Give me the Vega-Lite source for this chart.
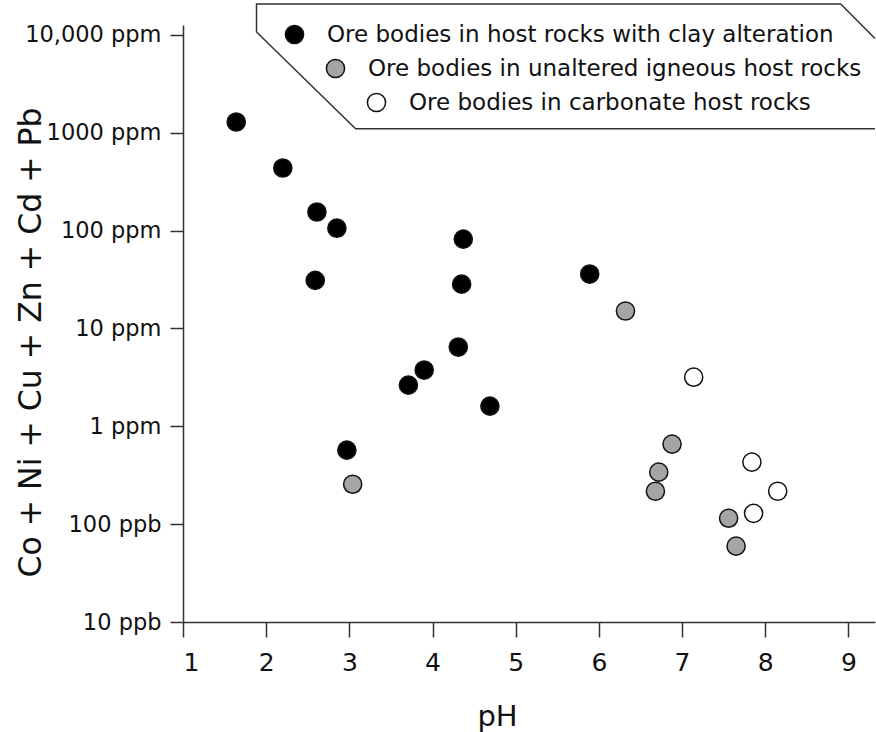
{
  "$schema": "https://vega.github.io/schema/vega-lite/v6.json",
  "width": 692,
  "height": 597,
  "autosize": {"type": "none"},
  "padding": {"left": 183, "top": 25, "right": 1, "bottom": 110},
  "background": "white",
  "config": {
    "view": {"stroke": null},
    "font": "DejaVu Sans"
  },
  "datasets": {
    "points": [
      {"pH": 1.64, "conc": 1290, "type": "Ore bodies in host rocks with clay alteration"},
      {"pH": 2.20, "conc": 437, "type": "Ore bodies in host rocks with clay alteration"},
      {"pH": 2.61, "conc": 155, "type": "Ore bodies in host rocks with clay alteration"},
      {"pH": 2.85, "conc": 106, "type": "Ore bodies in host rocks with clay alteration"},
      {"pH": 2.59, "conc": 31, "type": "Ore bodies in host rocks with clay alteration"},
      {"pH": 4.37, "conc": 82, "type": "Ore bodies in host rocks with clay alteration"},
      {"pH": 4.35, "conc": 28.4, "type": "Ore bodies in host rocks with clay alteration"},
      {"pH": 5.89, "conc": 36, "type": "Ore bodies in host rocks with clay alteration"},
      {"pH": 4.31, "conc": 6.46, "type": "Ore bodies in host rocks with clay alteration"},
      {"pH": 3.90, "conc": 3.76, "type": "Ore bodies in host rocks with clay alteration"},
      {"pH": 3.71, "conc": 2.64, "type": "Ore bodies in host rocks with clay alteration"},
      {"pH": 4.69, "conc": 1.61, "type": "Ore bodies in host rocks with clay alteration"},
      {"pH": 2.97, "conc": 0.571, "type": "Ore bodies in host rocks with clay alteration"},
      {"pH": 6.32, "conc": 15.1, "type": "Ore bodies in unaltered igneous host rocks"},
      {"pH": 6.88, "conc": 0.658, "type": "Ore bodies in unaltered igneous host rocks"},
      {"pH": 6.72, "conc": 0.340, "type": "Ore bodies in unaltered igneous host rocks"},
      {"pH": 6.68, "conc": 0.217, "type": "Ore bodies in unaltered igneous host rocks"},
      {"pH": 7.56, "conc": 0.115, "type": "Ore bodies in unaltered igneous host rocks"},
      {"pH": 7.65, "conc": 0.0596, "type": "Ore bodies in unaltered igneous host rocks"},
      {"pH": 3.04, "conc": 0.256, "type": "Ore bodies in unaltered igneous host rocks"},
      {"pH": 7.14, "conc": 3.18, "type": "Ore bodies in carbonate host rocks"},
      {"pH": 7.84, "conc": 0.431, "type": "Ore bodies in carbonate host rocks"},
      {"pH": 8.15, "conc": 0.217, "type": "Ore bodies in carbonate host rocks"},
      {"pH": 7.86, "conc": 0.129, "type": "Ore bodies in carbonate host rocks"}
    ],
    "box": [
      {"i": 1, "pH": 9.32, "conc": 1100},
      {"i": 2, "pH": 3.075, "conc": 1100},
      {"i": 3, "pH": 1.884, "conc": 10730},
      {"i": 4, "pH": 1.884, "conc": 20750},
      {"i": 5, "pH": 8.908, "conc": 20750},
      {"i": 6, "pH": 9.32, "conc": 9210}
    ]
  },
  "encoding": {
    "x": {
      "field": "pH",
      "type": "quantitative",
      "scale": {"domain": [1, 9.32], "nice": false, "zero": false},
      "axis": {
        "values": [1, 2, 3, 4, 5, 6, 7, 8, 9],
        "format": "d",
        "grid": false,
        "tickSize": 15,
        "tickWidth": 1.5,
        "tickColor": "#333",
        "domainColor": "#333",
        "domainWidth": 1.5,
        "labelPadding": 13,
        "labelFontSize": 25,
        "labelColor": "#111",
        "labelFont": "DejaVu Sans",
        "title": "pH",
        "titleFont": "DejaVu Sans",
        "titleFontSize": 29,
        "titleFontWeight": "normal",
        "titleColor": "#111",
        "titleX": 314,
        "titleY": 80,
        "titleAlign": "center",
        "titleBaseline": "top"
      }
    },
    "y": {
      "field": "conc",
      "type": "quantitative",
      "scale": {"type": "log", "domain": [0.01, 12650], "nice": false},
      "axis": {
        "values": [0.01, 0.1, 1, 10, 100, 1000, 10000],
        "labelExpr": "datum.value >= 10000 ? '10,000 ppm' : datum.value >= 1 ? format(datum.value, 'd') + ' ppm' : format(datum.value * 1000, '.0f') + ' ppb'",
        "grid": false,
        "tickSize": 13,
        "tickWidth": 1.5,
        "tickColor": "#333",
        "domainColor": "#333",
        "domainWidth": 1.5,
        "labelPadding": 9,
        "labelFontSize": 22.5,
        "labelColor": "#111",
        "labelFont": "DejaVu Sans",
        "title": "Co + Ni + Cu + Zn + Cd + Pb",
        "titleFont": "DejaVu Sans",
        "titleFontSize": 31.5,
        "titleFontWeight": "normal",
        "titleColor": "#111",
        "titleAngle": -90,
        "titleX": -152,
        "titleY": 317,
        "titleAlign": "center",
        "titleBaseline": "middle"
      }
    }
  },
  "layer": [
    {
      "data": {"name": "box"},
      "mark": {"type": "line", "stroke": "#333", "strokeWidth": 1.5, "clip": false},
      "encoding": {
        "order": {"field": "i", "type": "quantitative"}
      }
    },
    {
      "data": {"name": "points"},
      "mark": {"type": "point", "shape": "circle", "filled": true, "size": 330, "stroke": "#111", "strokeWidth": 1.5, "opacity": 1},
      "encoding": {
        "fill": {
          "field": "type",
          "type": "nominal",
          "scale": {
            "domain": [
              "Ore bodies in host rocks with clay alteration",
              "Ore bodies in unaltered igneous host rocks",
              "Ore bodies in carbonate host rocks"
            ],
            "range": ["#000000", "#a5a5a5", "#ffffff"]
          },
          "legend": {
            "orient": "none",
            "legendX": 100,
            "legendY": -2,
            "title": null,
            "padding": 0,
            "labelFontSize": 23,
            "labelFont": "DejaVu Sans",
            "labelColor": "#111",
            "labelLimit": 700,
            "symbolType": "circle",
            "symbolSize": 330,
            "symbolStrokeWidth": 1.5,
            "symbolStrokeColor": "#111",
            "symbolOpacity": 1,
            "rowPadding": 9,
            "labelOffset": 12,
            "encode": {
              "symbols": {"update": {"x": {"signal": "datum.offset * 0.5 + datum.index * 41"}}},
              "labels": {"update": {"x": {"signal": "datum.offset + 21 + datum.index * 41"}}}
            }
          }
        }
      }
    }
  ]
}
